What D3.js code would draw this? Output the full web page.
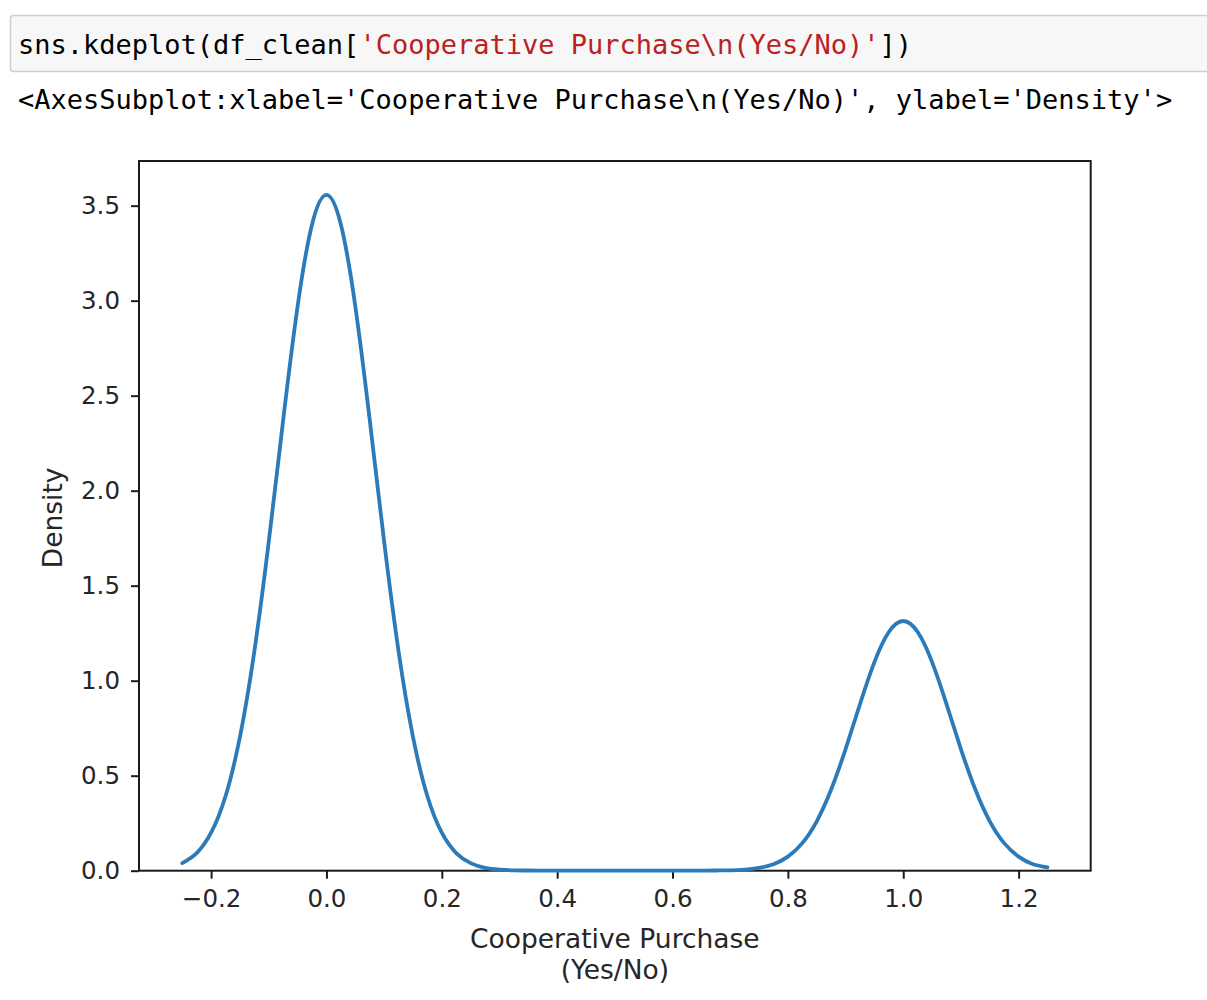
<!DOCTYPE html>
<html>
<head>
<meta charset="utf-8">
<script src="https://cdn.jsdelivr.net/npm/d3@7"></script>
<style>
  html, body { margin: 0; padding: 0; background: #fff; }
  svg { display: block; }
</style>
</head>
<body>
<div id="chart"></div>
<script>
// ---- data ----
const codeLine = ["sns.kdeplot(df_clean[", "'Cooperative Purchase\\n(Yes/No)'", "])"];
const outputLine = "<AxesSubplot:xlabel='Cooperative Purchase\\n(Yes/No)', ylabel='Density'>";
const xLabelLines = ["Cooperative Purchase", "(Yes/No)"];
const yLabel = "Density";
const xTicks = [-0.2, 0.0, 0.2, 0.4, 0.6, 0.8, 1.0, 1.2];
const yTicks = [0.0, 0.5, 1.0, 1.5, 2.0, 2.5, 3.0, 3.5];
const xDomain = [-0.325, 1.325];
const yDomain = [0, 3.735];
const kdeX = [
  -0.25, -0.225, -0.2, -0.175, -0.15, -0.125, -0.1, -0.075, -0.05, -0.025,
  0.0, 0.025, 0.05, 0.075, 0.1, 0.125, 0.15, 0.175, 0.2, 0.225,
  0.25, 0.275, 0.3, 0.325, 0.35, 0.375, 0.4, 0.425, 0.45, 0.475,
  0.5, 0.525, 0.55, 0.575, 0.6, 0.625, 0.65, 0.675, 0.7, 0.725,
  0.75, 0.775, 0.8, 0.825, 0.85, 0.875, 0.9, 0.925, 0.95, 0.975,
  1.0, 1.025, 1.05, 1.075, 1.1, 1.125, 1.15, 1.175, 1.2, 1.225, 1.25
];
const kdeY = [
  0.040, 0.093, 0.200, 0.392, 0.704, 1.155, 1.732, 2.373, 2.971, 3.401,
  3.557, 3.401, 2.971, 2.373, 1.732, 1.155, 0.704, 0.392, 0.200, 0.093,
  0.040, 0.015, 0.006, 0.002, 0.001, 0.000, 0.000, 0.000, 0.000, 0.000,
  0.000, 0.000, 0.000, 0.000, 0.000, 0.000, 0.000, 0.001, 0.002, 0.006,
  0.015, 0.034, 0.074, 0.145, 0.260, 0.427, 0.640, 0.877, 1.098, 1.256,
  1.314, 1.256, 1.098, 0.877, 0.640, 0.427, 0.260, 0.145, 0.074, 0.034, 0.018
];

// ---- drawing ----
(function () {
const W = 1207, H = 1000;
const svg = d3.select("#chart").append("svg")
  .attr("width", W).attr("height", H)
  .style("background", "#fff");

// code cell
svg.append("rect")
  .attr("x", 10.5).attr("y", 15.5).attr("width", 1220).attr("height", 56)
  .attr("fill", "#f7f7f7").attr("stroke", "#cfcfcf").attr("stroke-width", 1.5).attr("rx", 3);

const mono = "'DejaVu Sans Mono', 'Liberation Mono', monospace";
const codeText = svg.append("text")
  .attr("x", 18).attr("y", 54)
  .attr("font-family", mono).attr("font-size", 27)
  .attr("xml:space", "preserve");
codeText.append("tspan").attr("fill", "#000").text(codeLine[0]);
codeText.append("tspan").attr("fill", "#ba2121").text(codeLine[1]);
codeText.append("tspan").attr("fill", "#000").text(codeLine[2]);

svg.append("text")
  .attr("x", 18).attr("y", 109)
  .attr("font-family", mono).attr("font-size", 27)
  .attr("fill", "#000")
  .text(outputLine);

// axes
const pLeft = 139, pRight = 1090.7, pTop = 161, pBottom = 870.7;
const x = d3.scaleLinear().domain(xDomain).range([pLeft, pRight]);
const y = d3.scaleLinear().domain(yDomain).range([pBottom, pTop]);

const sans = "'DejaVu Sans', sans-serif";
const fmt = d3.format(".1f");

const xAxis = svg.append("g")
  .attr("transform", `translate(0,${pBottom})`)
  .call(d3.axisBottom(x).tickValues(xTicks).tickFormat(fmt).tickSize(8).tickPadding(11).tickSizeOuter(0));
const yAxis = svg.append("g")
  .attr("transform", `translate(${pLeft},0)`)
  .call(d3.axisLeft(y).tickValues(yTicks).tickFormat(fmt).tickSize(8).tickPadding(11).tickSizeOuter(0));

[xAxis, yAxis].forEach(g => {
  g.select(".domain").remove();
  g.selectAll(".tick line").attr("stroke", "#1a1a1a").attr("stroke-width", 2);
  g.selectAll(".tick text")
    .attr("font-family", sans).attr("font-size", 24.5).attr("fill", "#262626");
});
xAxis.selectAll(".tick text").attr("dy", "0.71em");

// spines
svg.append("rect")
  .attr("x", pLeft).attr("y", pTop)
  .attr("width", pRight - pLeft).attr("height", pBottom - pTop)
  .attr("fill", "none").attr("stroke", "#1a1a1a").attr("stroke-width", 2);

// KDE line
const pts = kdeX.map((v, i) => [v, kdeY[i]]);
svg.append("path")
  .datum(pts)
  .attr("fill", "none")
  .attr("stroke", "#2b7bba")
  .attr("stroke-width", 3.8)
  .attr("stroke-linejoin", "round")
  .attr("stroke-linecap", "round")
  .attr("d", d3.line()
    .x(d => x(d[0]))
    .y(d => y(d[1]))
    .curve(d3.curveNatural));

// axis labels
const xl = svg.append("text")
  .attr("x", (pLeft + pRight) / 2).attr("y", 948)
  .attr("text-anchor", "middle")
  .attr("font-family", sans).attr("font-size", 26.5).attr("fill", "#262626");
xLabelLines.forEach((t, i) => {
  xl.append("tspan").attr("x", (pLeft + pRight) / 2).attr("dy", i === 0 ? 0 : 31).text(t);
});

svg.append("text")
  .attr("transform", `translate(62,${(pTop + pBottom) / 2 + 2}) rotate(-90)`)
  .attr("text-anchor", "middle")
  .attr("font-family", sans).attr("font-size", 26.5).attr("fill", "#262626")
  .text(yLabel);
})();
</script>
</body>
</html>
